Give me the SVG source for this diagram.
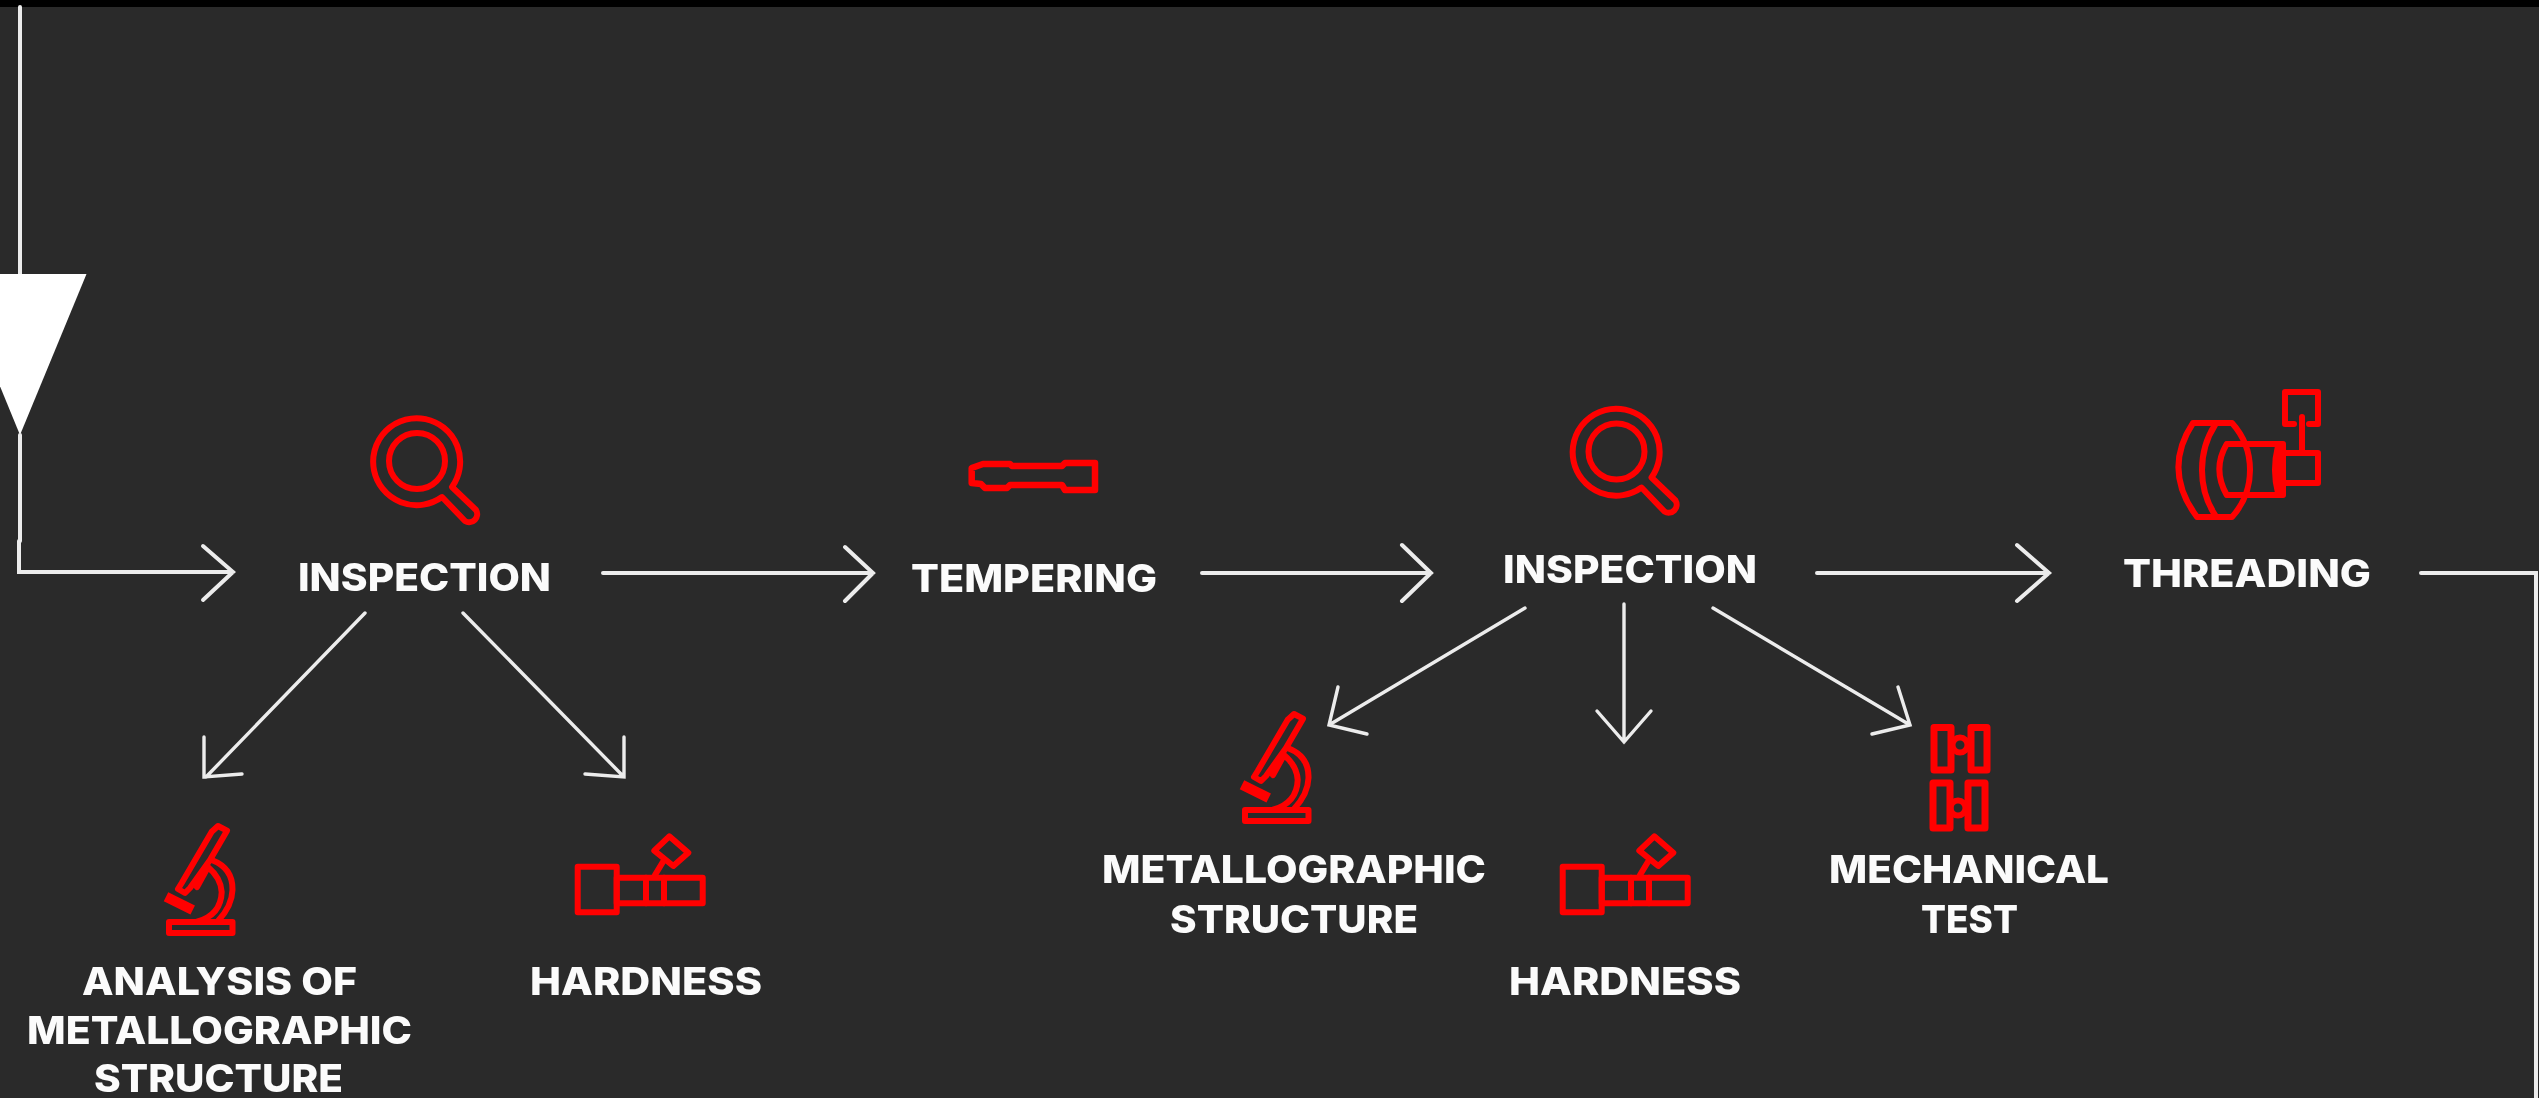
<svg xmlns="http://www.w3.org/2000/svg" xmlns:xlink="http://www.w3.org/1999/xlink" width="2539" height="1098" viewBox="0 0 2539 1098">
<style>
.t{font-family:"Inter","Liberation Sans",sans-serif;font-weight:800;font-size:38.5px;fill:#fbfbfb;filter:url(#b)}
.ic{fill:none;stroke:#f00;stroke-width:6;stroke-linejoin:round;stroke-linecap:round;filter:url(#b)}
.c{fill:none;stroke:#ececec;stroke-width:4;stroke-linejoin:miter;stroke-linecap:round;filter:url(#b)}
.d{stroke-width:3.4}
</style>
<defs>
<filter id="b" filterUnits="userSpaceOnUse" x="-60" y="-60" width="2700" height="1260"><feGaussianBlur stdDeviation="0.6"/></filter>
<g id="mag">
<path d="M452,487L476,510A8,8 0 0 1 465,521L442,497A43.5,43.5 0 1 1 452,487Z"/>
<circle cx="417" cy="461" r="28"/>
</g>
<g id="micro">
<rect x="169" y="922" width="63.5" height="11"/>
<path d="M211.7,831.7L218,826L227,830.7L210,860L190,888L185,893L178,889L181.7,883Z"/>
<path d="M166,896.7L192.7,910" stroke-width="10" stroke-linecap="butt"/>
<path d="M211.7,860Q233,868 232.5,890Q232,906 218,921"/>
<path d="M197,887L208,867Q221,878 221.7,892Q221,915 197,921.7"/>
</g>
<g id="hard">
<rect x="577.7" y="866.7" width="39" height="45.6"/>
<rect x="616.7" y="877.7" width="86" height="25.6"/>
<path d="M646,877.7V903.3M664,877.7V903.3"/>
<path d="M669.3,836.3L688.3,852.7L673.3,866L654.3,850.7Z"/>
<path d="M663,861.7L655,875"/>
</g>
</defs>
<rect width="2539" height="1098" fill="#2a2a2a"/>
<rect width="2539" height="7" fill="#000"/>
<g id="connectors">
<path d="M20,7V274" class="c"/>
<polygon points="-46,274 86.5,274 20,435" fill="#fff"/>
<path d="M20,435V541" class="c"/>
<path d="M19,541V572H233M203,546L233,572L203,600" class="c"/>
<path d="M603,573H873M845,547L873,573L845,601" class="c"/>
<path d="M1202,573H1431M1402,545L1431,573L1402,601" class="c"/>
<path d="M1817,573H2049M2017,545L2049,573L2017,601" class="c"/>
<path d="M2421,573H2536V1098" class="c"/>
<path d="M365,613L206,777M204,737V777L242,774" class="c d"/>
<path d="M463,613L624,777M624,737V777L585,774" class="c d"/>
<path d="M1525,608L1329,725M1338,687L1329,725L1367,734" class="c d"/>
<path d="M1624,604V742M1597,711L1624,742L1651,711" class="c d"/>
<path d="M1713,608L1910,725M1898,687L1910,725L1872,734" class="c d"/>
</g>
<g id="node-inspection-1"><use xlink:href="#mag" class="ic"/><text class="t" x="298" y="591" textLength="253" lengthAdjust="spacingAndGlyphs">INSPECTION</text></g>
<g id="node-analysis"><use xlink:href="#micro" class="ic"/>
<text class="t" x="82" y="995" textLength="275" lengthAdjust="spacingAndGlyphs">ANALYSIS OF</text>
<text class="t" x="27" y="1044" textLength="385" lengthAdjust="spacingAndGlyphs">METALLOGRAPHIC</text>
<text class="t" x="94" y="1092" textLength="249" lengthAdjust="spacingAndGlyphs">STRUCTURE</text></g>
<g id="node-hardness-1"><use xlink:href="#hard" class="ic"/><text class="t" x="530" y="995" textLength="232" lengthAdjust="spacingAndGlyphs">HARDNESS</text></g>
<g id="node-tempering">
<path class="ic" style="stroke-width:6.5" d="M971.7,468L983,464H1010L1012,466H1062L1065,463H1095V490H1065L1062,485H1010L1007,488H985L981,484L971.7,483Z"/>
<text class="t" x="911" y="592" textLength="246" lengthAdjust="spacingAndGlyphs">TEMPERING</text></g>
<g id="node-inspection-2"><use xlink:href="#mag" class="ic" transform="translate(1199.5,-9.5)"/><text class="t" x="1503" y="583" textLength="254" lengthAdjust="spacingAndGlyphs">INSPECTION</text></g>
<g id="node-metallographic"><use xlink:href="#micro" class="ic" transform="translate(1076,-112)"/>
<text class="t" x="1102" y="883" textLength="384" lengthAdjust="spacingAndGlyphs">METALLOGRAPHIC</text>
<text class="t" x="1170" y="933" textLength="248" lengthAdjust="spacingAndGlyphs">STRUCTURE</text></g>
<g id="node-hardness-2"><use xlink:href="#hard" class="ic" transform="translate(985,0)"/><text class="t" x="1509" y="995" textLength="232" lengthAdjust="spacingAndGlyphs">HARDNESS</text></g>
<g id="node-mechanical">
<g class="ic" style="stroke-width:7">
<rect x="1934" y="727.5" width="17" height="42.5"/><rect x="1971" y="727.5" width="16" height="42.5"/><circle cx="1960" cy="745" r="7.5" style="stroke-width:6"/>
<rect x="1933" y="783" width="17" height="45"/><rect x="1968" y="783" width="17" height="45"/><circle cx="1958" cy="808" r="7.5" style="stroke-width:6"/>
</g>
<text class="t" x="1829" y="883" textLength="280" lengthAdjust="spacingAndGlyphs">MECHANICAL</text>
<text class="t" x="1921" y="933" textLength="97" lengthAdjust="spacingAndGlyphs">TEST</text></g>
<g id="node-threading">
<g class="ic">
<path d="M2193,423Q2162,470 2197,517H2232Q2250,497 2250,470Q2250,443 2232,423Z"/>
<path d="M2215,425Q2202,445 2202,470Q2202,495 2215,515"/>
<path d="M2226.7,444Q2212,469 2226.7,495H2283V444Z"/>
<path d="M2278,446Q2272,470 2278,493H2283V446Z" fill="#f00"/>
<rect x="2283" y="453" width="35" height="30"/>
<path d="M2302,417V453"/>
<path d="M2294,424H2285V392H2318V424H2309"/>
</g>
<text class="t" x="2123" y="587" textLength="248" lengthAdjust="spacingAndGlyphs">THREADING</text></g>
</svg>
